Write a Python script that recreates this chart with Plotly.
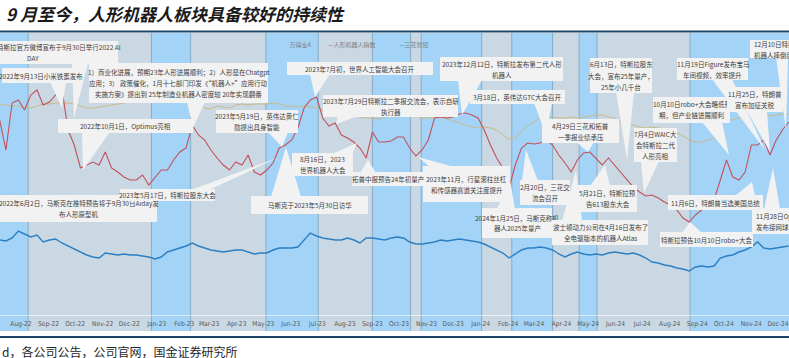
import plotly.graph_objects as go
import pandas as pd

W, H = 789, 358
MT, MB = 33, 43
PH = H - MT - MB  # plot height in px

# ---------------- data (relative units) ----------------
dates = pd.date_range("2022-07-08", periods=128, freq="7D")

robot_index = [195,165,212,215,205,220,225,210,213,220,
               227,185,170,147,150,153,150,163,147,143,
               138,135,135,140,130,137,145,145,155,163,
               167,190,180,175,165,157,150,145,153,150,
               160,143,140,145,152,167,170,175,187,207,
               215,218,197,189,192,180,177,173,167,157,
               183,173,173,174,178,178,167,159,165,175,
               197,198,197,198,201,202,200,197,185,170,
               157,147,127,150,167,172,171,172,175,170,
               160,152,143,155,162,163,157,150,157,150,
               143,135,128,123,119,120,117,113,110,105,
               97,93,100,105,107,115,135,155,138,135,
               143,170,170,175,160,175,185,193]

wind_all_a = [211,210,209,209,208,207,209,211,211,212,
              212,212,211,209,207,207,208,209,210,211,
              212,213,213,214,215,218,219,220,219,218,
              219,218,211,207,206,209,208,207,210,211,
              210,211,211,211,212,211,209,209,208,209,
              208,207,205,204,203,205,203,201,198,197,
              197,196,198,200,201,201,200,199,197,197,
              198,198,196,194,192,190,188,187,188,187,
              185,180,176,177,184,189,193,197,198,198,
              197,197,198,197,198,199,200,200,198,197,
              193,191,190,188,187,188,187,186,184,182,
              179,175,173,173,175,177,190,197,195,197,
              199,201,202,201,199,200,201,201]

sanhua = [75,74,77,84,81,78,80,73,75,76,
          72,69,66,63,60,58,57,62,61,60,
          61,60,60,59,58,56,58,63,65,67,
          69,72,69,67,65,64,63,64,65,65,
          63,61,62,62,65,67,67,67,68,75,
          82,79,77,76,75,75,77,75,72,77,
          77,76,75,77,78,77,73,71,71,72,
          73,75,74,75,76,75,74,73,71,68,
          65,62,57,61,65,67,67,68,67,65,
          61,58,61,63,61,60,61,60,62,63,
          62,61,62,60,57,53,52,50,49,47,
          46,44,48,49,48,49,57,59,60,63,
          65,68,73,67,66,67,68,69]

series_names = ["万得全A", "人形机器人指数", "三花智控"]

x_range = ["2022-07-08 08:00", "2024-12-13 10:00"]
band_edges = ["2022-08-09", "2022-12-26", "2023-02-08", "2023-05-04", "2023-07-02",
              "2023-09-01", "2023-10-14", "2023-10-26", "2024-01-02", "2024-02-05",
              "2024-03-22", "2024-04-21", "2024-05-11", "2024-08-24"]

title_text = "9 月至今，人形机器人板块具备较好的持续性"
source_text = "d，各公司公告，公司官网，国金证券研究所"

# callouts: text, box x0,y0,x1,y1 (px), tail side, position on side, tail tip x,y (px), tail half-width
callouts = [
    ("2022年6月2日，马斯克在推特预告将于9月30日Aiday发<br>布人形原型机", 0, 195, 157, 222, None, 0, 0, 0, 0),
    ("特斯拉官方微博宣布于9月30日举行2022 AI<br>DAY", 0, 41, 118, 64, "b", 80, 74, 118, 8),
    ("2022年9月13日小米铁蛋发布", 2, 68, 80, 83, "b", 58, 62, 108, 8),
    ("1）商业化进展，预期23年人形进展顺利；2）人形是在Chatgpt<br>应用；3） 政策催化，1月十七部门印发《“机器人+”应用行动<br>实施方案》提出到 25年制造业机器人密度较 20年实现翻番",
     89, 63, 268, 103, "b", 196, 193, 128, 9),
    ("2022年10月1日，Optimus亮相", 58, 119, 193, 133, "b", 96, 83, 170, 14),
    ("2023年5月19日，英伟达黄仁<br>勋提出具身智能", 216, 110, 298, 133, "b", 278, 282, 147, 10),
    ("2023年7月初，世界人工智能大会召开", 287, 62, 433, 75, "b", 320, 315, 97, 10),
    ("2023年7月29日特斯拉二季报交流会，表示自研<br>执行器", 323, 95, 458, 117, "b", 348, 336, 124, 10),
    ("2023年12月12日，特斯拉发布第二代人形<br>机器人", 440, 57, 563, 81, "b", 470, 462, 115, 12),
    ("3月18日，英伟达GTC大会召开", 470, 90, 565, 104, "b", 543, 546, 135, 9),
    ("4月29日三花和拓普<br>一季报业绩承压", 542, 119, 619, 143, "b", 585, 588, 152, 9),
    ("6月13日，特斯拉股东<br>大会，宣布25年量产，<br>25年小几千台", 590, 58, 652, 93, "b", 625, 627, 160, 9),
    ("7月4日WAIC大<br>会特斯拉二代<br>人形亮相", 634, 128, 677, 162, "b", 650, 644, 193, 9),
    ("10月10日robo+大会略低预<br>期，但产业链进展顺利", 653, 97, 730, 123, "b", 712, 729, 155, 10),
    ("11月19日Figure发布宝马<br>车间视频，效率提升", 677, 58, 748, 80, "b", 722, 765, 150, 10),
    ("11月25日，特朗普<br>宣布加征关税", 727, 87, 783, 112, "b", 757, 770, 152, 10),
    ("12月10日特斯拉<br>机器人摔倒后", 750, 40, 812, 58, "b", 782, 786, 130, 6),
    ("11月6日，特朗普当选美国总统", 668, 195, 763, 210, "t", 745, 752, 182, 10),
    ("特斯拉预告10月10日robo+大会", 660, 232, 753, 247, "t", 692, 690, 222, 10),
    ("11月28日Optimus<br>发布接网球视频", 752, 208, 815, 234, "t", 772, 773, 168, 8),
    ("2023年11月，行星滚柱丝杠<br>和传感器赛道关注度提升", 423, 166, 510, 202, "t", 442, 418, 157, 12),
    ("拓普中报预告24年初量产", 352, 172, 424, 186, "t", 368, 368, 160, 8),
    ("8月16日，2023<br>世界机器人大会", 292, 153, 353, 176, "t", 342, 357, 143, 10),
    ("2023年5月17日，特斯拉股东大会", 120, 189, 215, 201, "t", 200, 277, 158, 9),
    ("马斯克于2023年5月30日访华", 251, 196, 368, 214, "t", 286, 286, 147, 15),
    ("2024年1月25日，马斯克称机<br>器人2025年量产", 482, 208, 552, 238, "t", 506, 510, 180, 9),
    ("2月20日，三花交<br>流会召开", 520, 180, 570, 205, "t", 530, 526, 150, 8),
    ("波士顿动力公司在4月16日发布了<br>全电驱版本的机器人Atlas", 552, 220, 648, 245, "t", 572, 576, 170, 10),
    ("5月21日，特斯拉预<br>告613股东大会", 578, 185, 637, 212, "t", 600, 605, 165, 10),
]
# special line placement (line centre x in px) and line spacing
line_x_override = {"特斯拉官方微博宣布于9月30日举行2022 AI<br>DAY": [59, 33]}
spacing_default = 11

# ---------------- styles ----------------
C_RED = "#c4505c"
C_OLIVE = "#cbb98a"
C_BLUE = "#2b7fc3"
C_BAND_BLUE = "#a3d4f7"
C_BAND_GRAY = "#c9d8e3"
C_EDGE = "#8eb1cb"
C_NAVY = "#1f4469"
C_BOX = "#f2f2f2"
CJK = "Noto Sans CJK SC"
NARROW = "Liberation Sans Narrow, Arial Narrow, DejaVu Sans Condensed, Roboto, sans-serif"


def px(x, y):
    return x / W, (H - MB - y) / PH


fig = go.Figure()
n = min(len(dates), len(robot_index), len(wind_all_a), len(sanhua))
fig.add_trace(go.Scatter(x=dates[:n], y=wind_all_a[:n], mode="lines", name=series_names[0],
                         line=dict(color=C_OLIVE, width=1)))
fig.add_trace(go.Scatter(x=dates[:n], y=robot_index[:n], mode="lines", name=series_names[1],
                         line=dict(color=C_RED, width=1.1)))
fig.add_trace(go.Scatter(x=dates[:n], y=sanhua[:n], mode="lines", name=series_names[2],
                         line=dict(color=C_BLUE, width=1.4)))

shapes = []
band_bottom = px(0, 331)[1]
edges = ["2022-06-01"] + band_edges + ["2025-01-31"]
for i in range(len(edges) - 1):
    shapes.append(dict(type="rect", xref="x", yref="paper", x0=edges[i], x1=edges[i + 1],
                       y0=band_bottom, y1=1, line_width=0, layer="below",
                       fillcolor=C_BAND_BLUE if i % 2 == 0 else C_BAND_GRAY))
for e in band_edges:
    shapes.append(dict(type="line", xref="x", yref="paper", x0=e, x1=e, y0=band_bottom, y1=1,
                       line=dict(color=C_EDGE, width=1.2), layer="below"))
for yy in (31.5, 337):
    shapes.append(dict(type="line", xref="paper", yref="paper", x0=0, x1=1,
                       y0=px(0, yy)[1], y1=px(0, yy)[1], line=dict(color=C_NAVY, width=2)))

annotations = []
for idx, (text, x0, y0, x1, y1, side, pos, tx, ty, half) in enumerate(callouts):
    if side is not None:
        if side in ("b", "t"):
            by = y1 - 1 if side == "b" else y0 + 1
            p1, p2 = (pos - half, by), (pos + half, by)
        else:
            bx = x1 - 1 if side == "r" else x0 + 1
            p1, p2 = (bx, pos - half), (bx, pos + half)
        a, b, c = px(*p1), px(*p2), px(tx, ty)
        shapes.append(dict(type="path", xref="paper", yref="paper", layer="above",
                           path=f"M{a[0]},{a[1]} L{b[0]},{b[1]} L{c[0]},{c[1]} Z",
                           fillcolor=C_BOX, line=dict(width=0)))
    bxp, byp = px(x0, y0)
    annotations.append(dict(xref="paper", yref="paper", x=bxp, y=byp, xanchor="left", yanchor="top",
                            width=x1 - x0, height=y1 - y0, text=" ", showarrow=False,
                            bgcolor=C_BOX, borderpad=0, borderwidth=0,
                            font=dict(family=CJK, size=6.5, color="#404040")))
    lines = text.split("<br>")
    cy = (y0 + y1) / 2
    clipped = x1 > W
    lxs = line_x_override.get(text)
    for j, line in enumerate(lines):
        ly = cy + (j - (len(lines) - 1) / 2) * spacing_default
        if clipped:
            lxp, lyp = px(x0 + 2, ly)
            xa = "left"
        else:
            lxp, lyp = px(lxs[j] if lxs else (x0 + x1) / 2, ly)
            xa = "center"
        annotations.append(dict(xref="paper", yref="paper", x=lxp, y=lyp, xanchor=xa, yanchor="middle",
                                text=line, showarrow=False,
                                font=dict(family=CJK, size=6.5, color="#404040")))

legend_items = [(282, C_OLIVE, series_names[0]), (326, C_RED, series_names[1]), (397, C_BLUE, series_names[2])]
for lx, col, name in legend_items:
    lxp, lyp = px(lx, 45)
    annotations.append(dict(xref="paper", yref="paper", x=lxp, y=lyp, xanchor="left", yanchor="middle",
                            showarrow=False, text=f"<span style='color:{col}'>—</span>{name}",
                            font=dict(family=CJK, size=6, color="#7f7f7f")))

sx, sy = px(0, 351)
annotations.append(dict(xref="paper", yref="paper", x=sx, y=sy, xanchor="left", yanchor="middle",
                        showarrow=False, text=source_text,
                        font=dict(family=CJK, size=12, color="#262626")))

fig.update_layout(
    width=W, height=H,
    margin=dict(l=0, r=0, t=MT, b=MB, autoexpand=False),
    paper_bgcolor="white", plot_bgcolor="white",
    showlegend=False,
    title=dict(text=title_text, x=6 / W, xanchor="left", y=1 - 15 / H, yanchor="middle",
               font=dict(family=CJK, size=17, color="#1a1a1a", weight="bold", style="italic")),
    xaxis=dict(type="date", range=x_range, tick0="2022-08-01", dtick="M1", tickformat="%b-%y",
               showgrid=False, zeroline=False, showline=True, linecolor="rgba(255,255,255,0.55)",
               ticks="", ticklabelstandoff=2, ticklabeloverflow="allow", automargin=False,
               tickfont=dict(family=NARROW, size=6.6, color="#595959")),
    yaxis=dict(range=[0, PH], visible=False, automargin=False),
    shapes=shapes,
    annotations=annotations,
)

fig.write_html("out.html", config={"displayModeBar": False},
               post_script="document.body.style.margin='0';document.body.style.padding='0';")
